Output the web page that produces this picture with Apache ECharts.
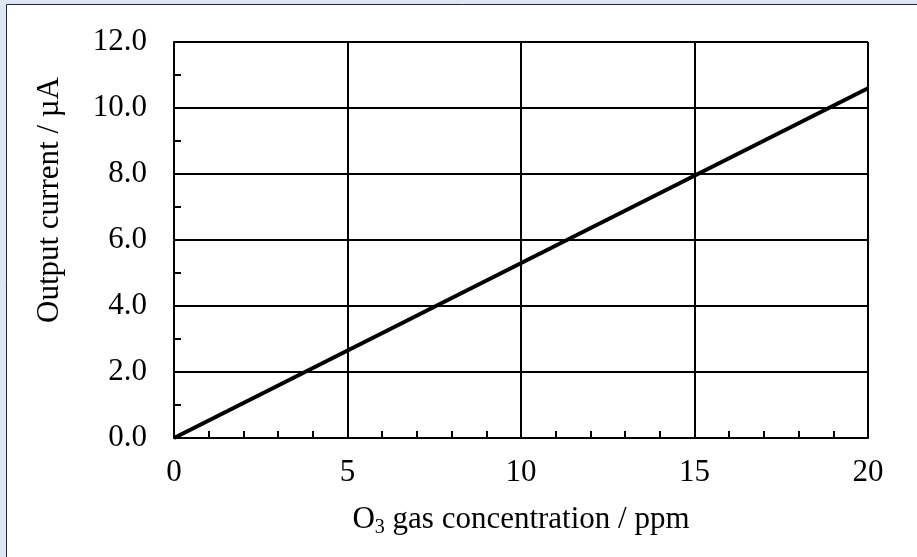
<!DOCTYPE html>
<html>
<head>
<meta charset="utf-8">
<script src="https://cdn.jsdelivr.net/npm/echarts@6/dist/echarts.min.js"></script>
<style>
  html, body { margin: 0; padding: 0; background: #ffffff; }
  #chart { width: 917px; height: 557px; }
</style>
</head>
<body>
<div id="chart"></div>
<script>
// O3 sensor calibration line
var concentration = [0, 20];
var current = [0, 10.6];
var xTicks = [0, 5, 10, 15, 20];
var yTicks = [0, 2, 4, 6, 8, 10, 12];
var yTitle = "Output current / µA";

var chart = echarts.init(document.getElementById("chart"));
var font = "'Liberation Serif', 'Times New Roman', serif";

var option = {
  animation: false,
  graphic: [
    { type: "rect", z: -10, shape: { x: 0, y: 0, width: 917, height: 557 }, style: { fill: "#dde7f3" } },
    { type: "rect", z: -9, shape: { x: 6.5, y: 4.5, width: 930, height: 580 },
      style: { fill: "#ffffff", stroke: "#1f2a36", lineWidth: 1 } },
    // y axis title sits above the plot centre in the original
    { type: "text", x: 50, y: 200, rotation: Math.PI / 2,
      style: { text: yTitle, fill: "#000", font: "31px " + font, textAlign: "center", textVerticalAlign: "middle" } }
  ],
  grid: { left: 174, right: 49, top: 42, bottom: 119 },
  xAxis: {
    type: "value",
    min: 0, max: 20, interval: 5,
    name: "{t|O}{s|3}{t| gas concentration / ppm}",
    nameLocation: "middle",
    nameGap: 64,
    nameTextStyle: {
      rich: {
        t: { fontFamily: font, fontSize: 31, color: "#000" },
        s: { fontFamily: font, fontSize: 20, color: "#000", verticalAlign: "bottom", padding: [16, 0, 0, 0] }
      }
    },
    axisLine: { show: true, onZero: false, lineStyle: { color: "#000", width: 2 } },
    axisTick: { show: false, inside: true },
    minorTick: { show: true, splitNumber: 5, length: 7, lineStyle: { color: "#000", width: 2 } },
    axisLabel: {
      margin: 19, color: "#000", fontFamily: font, fontSize: 31,
      formatter: function (v) { return xTicks.indexOf(v) >= 0 ? String(v) : ""; }
    },
    splitLine: { show: true, lineStyle: { color: "#000", width: 2 } }
  },
  yAxis: {
    type: "value",
    min: 0, max: 12, interval: 2,
    axisLine: { show: true, onZero: false, lineStyle: { color: "#000", width: 2 } },
    axisTick: { show: false, inside: true },
    minorTick: { show: true, splitNumber: 2, length: 7, lineStyle: { color: "#000", width: 2 } },
    axisLabel: {
      margin: 27, color: "#000", fontFamily: font, fontSize: 31,
      formatter: function (v) { return yTicks.indexOf(v) >= 0 ? v.toFixed(1) : ""; }
    },
    splitLine: { show: true, lineStyle: { color: "#000", width: 2 } }
  },
  series: [
    {
      type: "line",
      data: concentration.map(function (x, i) { return [x, current[i]]; }),
      showSymbol: false,
      lineStyle: { color: "#000", width: 4 },
      z: 5
    }
  ]
};

chart.setOption(option);
</script>
</body>
</html>
